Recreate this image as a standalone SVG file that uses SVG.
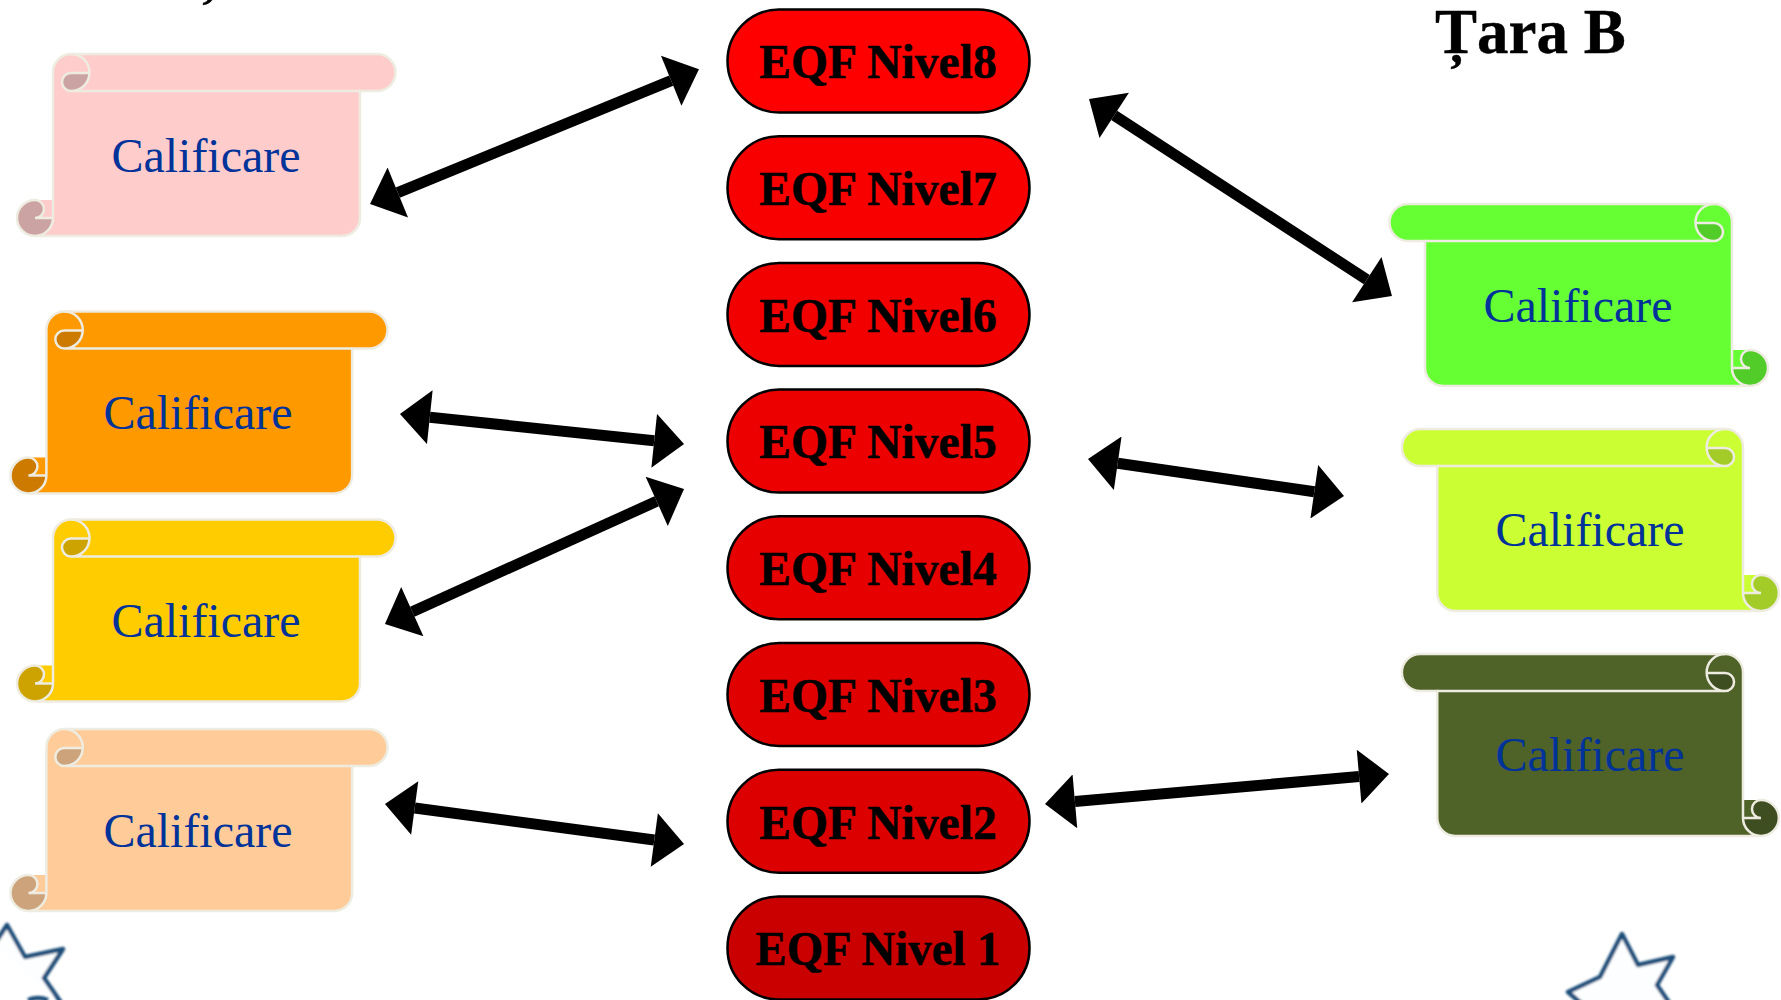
<svg xmlns="http://www.w3.org/2000/svg" xmlns:xlink="http://www.w3.org/1999/xlink" width="1781" height="1000" viewBox="0 0 1781 1000">
<style>
text{font-family:"Liberation Serif","Times New Roman",serif}
.lbl{font-size:48px;fill:#003399;text-anchor:middle}
.pill{stroke:#000;stroke-width:2.5}
.ptx{font-size:47.6px;font-weight:bold;fill:#000;stroke:#000;stroke-width:.5;text-anchor:middle}
.ttl{font-size:63px;font-weight:bold;fill:#000;stroke:#000;stroke-width:.4}
.con{stroke:#000;stroke-width:11;fill:none;marker-start:url(#head);marker-end:url(#head)}
.ln{fill:none;stroke:#EEECE1;stroke-width:2.5}
.dk{fill:#000;fill-opacity:.2;stroke:none}
.star{fill:#FDFEFF;stroke:#1F4E79;stroke-width:4.5;stroke-linejoin:round;filter:url(#soft)}
</style>
<defs>
<filter id="soft" x="-20%" y="-20%" width="140%" height="140%"><feGaussianBlur stdDeviation="0.9"/></filter>
<marker id="head" viewBox="0 0 34 54" refX="2" refY="27" markerWidth="34" markerHeight="54" markerUnits="userSpaceOnUse" orient="auto-start-reverse"><path d="M2,0 L32,27 L2,54 Z" fill="#000"/></marker>
<g id="scroll">
<path stroke="none" d="M53,72 A18,18 0 0 1 71,54 H377 A18,18 0 0 1 377,91 H360 V218 A18,18 0 0 1 342,236 H35 A18,18 0 0 1 35,200 H53 Z"/>
<path class="dk" d="M35,200 A18,18 0 1 0 53,218 H35 A9,9 0 0 0 35,200 Z"/>
<path class="dk" d="M71,73 H89 A18,18 0 0 1 71,91 A9,9 0 0 1 71,73 Z"/>
<path class="ln" d="M53,218 V72 A18,18 0 0 1 71,54 H377 A18,18 0 0 1 377,91 H360 V218 A18,18 0 0 1 342,236 H35 A18,18 0 0 1 35,200 A9,9 0 0 1 35,218 H53 A18,18 0 0 1 35,236"/>
<path class="ln" d="M71,54 A18,18 0 0 1 71,91 H360 M71,91 A9,9 0 0 1 71,73 H89"/>
</g>
</defs>
<rect width="1781" height="1000" fill="#fff"/>

<g id="title-a"><text class="ttl" x="187" y="-11">Ț</text></g>
<g id="title-b"><text class="ttl" x="1435" y="53">Țara B</text></g>

<g id="star-left"><path class="star" d="M-6,945 L7,925 L25,957 L63,949 L44,978 L62,1004 M28,1000 Q38,996 48,1000"/></g>
<g id="star-right"><path class="star" d="M1582,1004 L1568,992 L1600,977 L1622,934 L1638,965 L1673,957 L1657,985 L1670,1004"/></g>

<g id="q1"><use xlink:href="#scroll" href="#scroll" fill="#FFCCCC"/><text class="lbl" x="206" y="172">Calificare</text></g>
<g id="q2"><use xlink:href="#scroll" href="#scroll" fill="#FF9900" transform="translate(-6.4,257.5) scale(.996,1)"/><text class="lbl" x="198" y="429">Calificare</text></g>
<g id="q3"><use xlink:href="#scroll" href="#scroll" fill="#FFCC00" transform="translate(0,465.5)"/><text class="lbl" x="206" y="637">Calificare</text></g>
<g id="q4"><use xlink:href="#scroll" href="#scroll" fill="#FFCC99" transform="translate(-6.4,675) scale(.996,1)"/><text class="lbl" x="198" y="847">Calificare</text></g>
<g id="q5"><use xlink:href="#scroll" href="#scroll" fill="#66FF33" transform="translate(1785,150) scale(-1,1)"/><text class="lbl" x="1578" y="322">Calificare</text></g>
<g id="q6"><use xlink:href="#scroll" href="#scroll" fill="#CCFF33" transform="translate(1795.8,375) scale(-.996,1)"/><text class="lbl" x="1590" y="546">Calificare</text></g>
<g id="q7"><use xlink:href="#scroll" href="#scroll" fill="#4F6228" transform="translate(1795.8,600) scale(-.996,1)"/><text class="lbl" x="1590" y="771">Calificare</text></g>

<g id="n8"><rect class="pill" x="727.5" y="9.5" width="302" height="103" rx="51.5" fill="#FF0000"/><text class="ptx" x="878" y="78">EQF Nivel8</text></g>
<g id="n7"><rect class="pill" x="727.5" y="136.2" width="302" height="103" rx="51.5" fill="#F80000"/><text class="ptx" x="878" y="205">EQF Nivel7</text></g>
<g id="n6"><rect class="pill" x="727.5" y="262.9" width="302" height="103" rx="51.5" fill="#F20000"/><text class="ptx" x="878" y="331.5">EQF Nivel6</text></g>
<g id="n5"><rect class="pill" x="727.5" y="389.6" width="302" height="103" rx="51.5" fill="#EC0000"/><text class="ptx" x="878" y="458">EQF Nivel5</text></g>
<g id="n4"><rect class="pill" x="727.5" y="516.3" width="302" height="103" rx="51.5" fill="#E60000"/><text class="ptx" x="878" y="585">EQF Nivel4</text></g>
<g id="n3"><rect class="pill" x="727.5" y="643" width="302" height="103" rx="51.5" fill="#E00000"/><text class="ptx" x="878" y="711.5">EQF Nivel3</text></g>
<g id="n2"><rect class="pill" x="727.5" y="769.7" width="302" height="103" rx="51.5" fill="#DC0000"/><text class="ptx" x="878" y="838.5">EQF Nivel2</text></g>
<g id="n1"><rect class="pill" x="727.5" y="896.4" width="302" height="103" rx="51" fill="#CA0000"/><text class="ptx" x="878" y="965" textLength="245" lengthAdjust="spacingAndGlyphs">EQF Nivel 1</text></g>

<g id="connectors">
<line class="con" x1="397.8" y1="192.6" x2="671.2" y2="80.7"/>
<line class="con" x1="429.8" y1="417.2" x2="654.2" y2="440.8"/>
<line class="con" x1="412.3" y1="611.7" x2="656.7" y2="501.3"/>
<line class="con" x1="414.7" y1="808" x2="654.3" y2="840"/>
<line class="con" x1="1114.2" y1="115.4" x2="1366.8" y2="279.6"/>
<line class="con" x1="1117.7" y1="463.3" x2="1314.3" y2="491.7"/>
<line class="con" x1="1074.9" y1="801.4" x2="1359.1" y2="776.6"/>
</g>
</svg>
